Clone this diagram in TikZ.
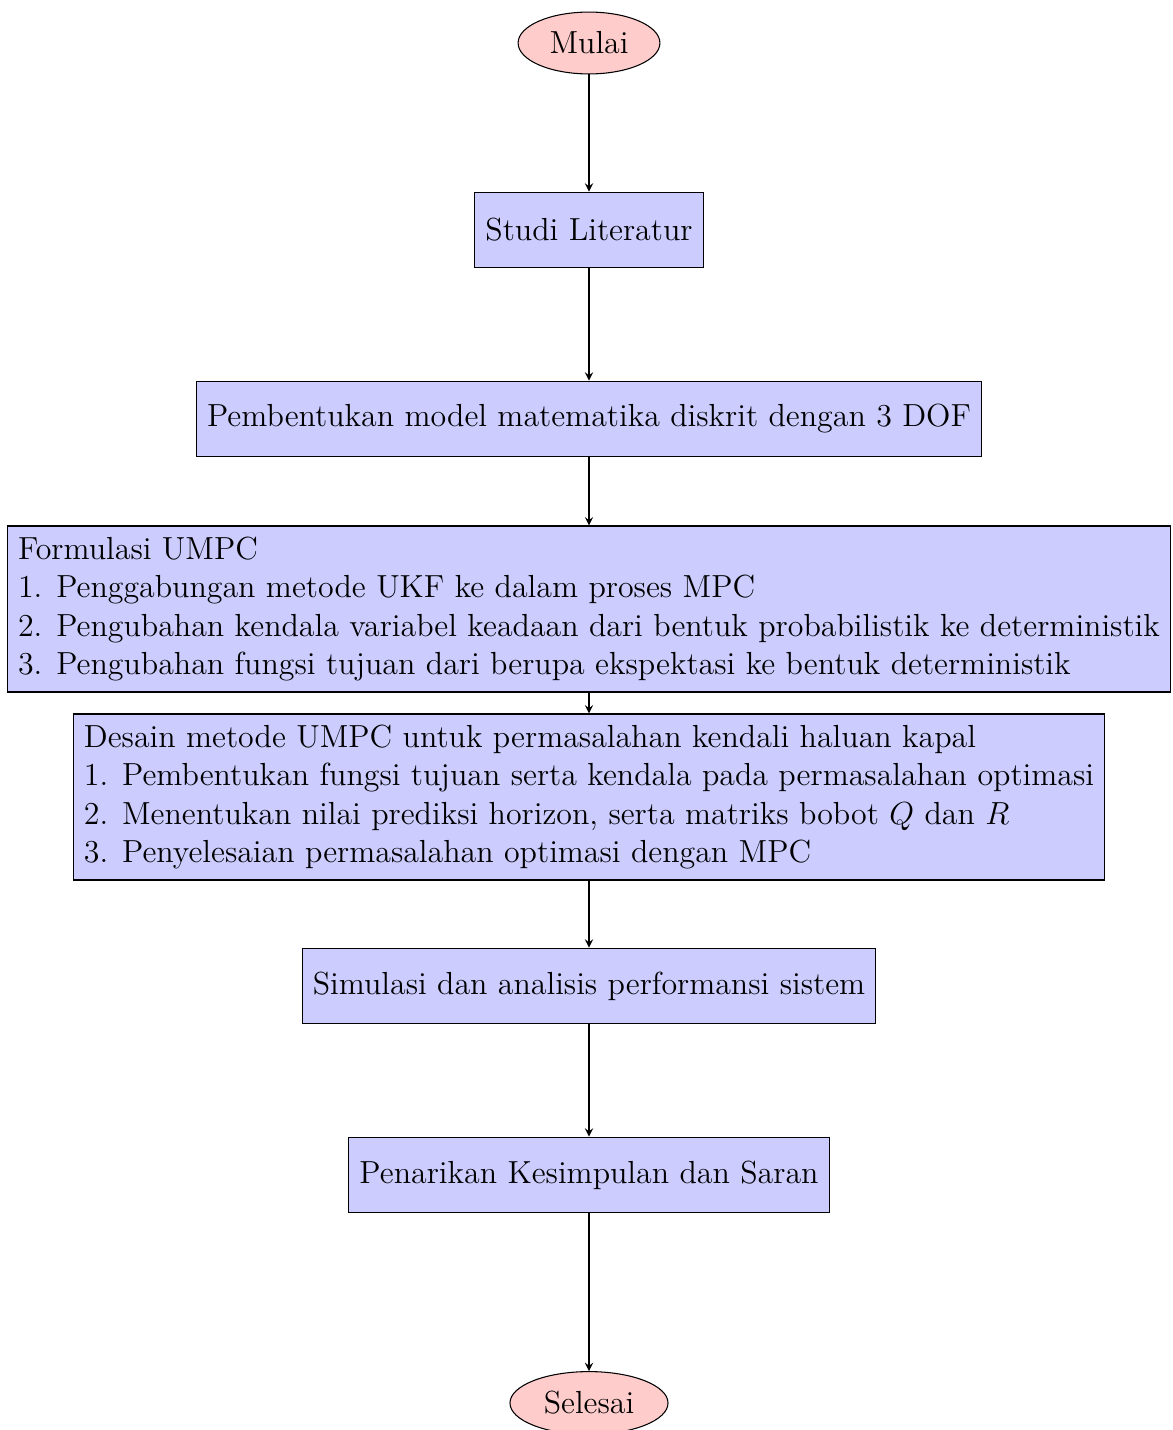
\documentclass[tikz,border=0pt,12pt]{standalone}
\usetikzlibrary{shapes.geometric}
\begin{document}
\begin{tikzpicture}[x=0.3759pt, y=-0.3759pt,
  terminal/.style={ellipse, draw, fill=red!20},
  process/.style={rectangle, draw, fill=blue!20, minimum height=1cm},
  listbox/.style={rectangle, draw, fill=blue!20, align=left},
  flow/.style={draw, -stealth}]
  \useasboundingbox (0,0) rectangle (1172,1430);
  \node[terminal] (mulai) at (589,43) {Mulai};
  \node[process] (studi) at (589,230) {Studi Literatur};
  \node[process] (model) at (589,419) {Pembentukan model matematika diskrit dengan 3 DOF};
  \node[listbox] (umpc) at (589,609) {Formulasi UMPC\\
    1. Penggabungan metode UKF ke dalam proses MPC\\
    2. Pengubahan kendala variabel keadaan dari bentuk probabilistik ke deterministik\\
    3. Pengubahan fungsi tujuan dari berupa ekspektasi ke bentuk deterministik};
  \node[listbox] (desain) at (589,797) {Desain metode UMPC untuk permasalahan kendali haluan kapal\\
    1. Pembentukan fungsi tujuan serta kendala pada permasalahan optimasi\\
    2. Menentukan nilai prediksi horizon, serta matriks bobot $Q$ dan $R$\\
    3. Penyelesaian permasalahan optimasi dengan MPC};
  \node[process] (simulasi) at (589,986) {Simulasi dan analisis performansi sistem};
  \node[process] (simpulan) at (589,1175) {Penarikan Kesimpulan dan Saran};
  \node[terminal] (selesai) at (589,1403) {Selesai};
  \draw[flow] (mulai) -- (studi);
  \draw[flow] (studi) -- (model);
  \draw[flow] (model) -- (umpc);
  \draw[flow] (umpc) -- (desain);
  \draw[flow] (desain) -- (simulasi);
  \draw[flow] (simulasi) -- (simpulan);
  \draw[flow] (simpulan) -- (selesai);
\end{tikzpicture}
\end{document}
